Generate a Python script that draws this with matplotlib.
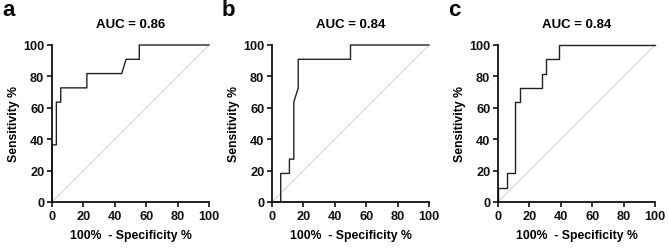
import matplotlib
matplotlib.use('Agg')
import matplotlib.pyplot as plt

plt.rcParams['font.family'] = ['Liberation Sans', 'DejaVu Sans']
plt.rcParams['font.weight'] = 'bold'

# ROC curves (100% - specificity, sensitivity)
fpr_a = [0, 0, 2.78, 2.78, 5.56, 5.56, 22.2, 22.2, 44.4, 47.2, 55.6, 55.6, 100]
sens_a = [0, 36.4, 36.4, 63.6, 63.6, 72.7, 72.7, 81.8, 81.8, 90.9, 90.9, 100, 100]

fpr_b = [0, 5.56, 5.56, 11.1, 11.1, 13.9, 13.9, 16.7, 16.7, 50, 50, 100]
sens_b = [0, 0, 18.2, 18.2, 27.3, 27.3, 63.6, 72.7, 90.9, 90.9, 100, 100]

fpr_c = [0, 0, 5.56, 5.56, 11.1, 11.1, 13.9, 13.9, 27.8, 27.8, 30.6, 30.6, 38.9, 38.9, 100]
sens_c = [0, 9.1, 9.1, 18.2, 18.2, 63.6, 63.6, 72.7, 72.7, 81.8, 81.8, 90.9, 90.9, 100, 100]

aucs = [0.86, 0.84, 0.84]
letras = ['a', 'b', 'c']
curvas = [(fpr_a, sens_a), (fpr_b, sens_b), (fpr_c, sens_c)]

fig = plt.figure(figsize=(6.69, 2.51), dpi=100)
W, H = 669, 251
esquerdas = [52, 272, 498]

for i in range(3):
    ax = fig.add_axes([esquerdas[i] / W, 48 / H, 157 / W, 157 / H])
    ax.plot([0, 100], [0, 100], color='#c8c8c8', lw=0.6, zorder=1)
    x, y = curvas[i]
    ax.plot(x, y, color='#222222', lw=1.0, zorder=2, clip_on=False)
    ax.set_xlim(0, 100)
    ax.set_ylim(0, 100)
    ax.set_xticks(range(0, 101, 20))
    ax.set_yticks(range(0, 101, 20))
    for s in ['top', 'right']:
        ax.spines[s].set_visible(False)
    for s in ['left', 'bottom']:
        ax.spines[s].set_linewidth(1.3)
        ax.spines[s].set_color('#111111')
    ax.tick_params(direction='out', length=3.5, width=1.2, labelsize=9.2, pad=2, colors='#111111')
    for lab in ax.get_xticklabels() + ax.get_yticklabels():
        lab.set_fontweight('bold')
    ax.set_xlabel('100%  - Specificity %', fontsize=8.8, fontweight='bold', labelpad=5)
    ax.set_ylabel('Sensitivity %', fontsize=8.8, fontweight='bold', labelpad=2)
    ax.set_title('AUC = ' + format(aucs[i], '.2f'), fontsize=9.5, fontweight='bold', pad=13)
    fig.text((esquerdas[i] - 50) / W, 1 - 16 / H, letras[i], fontsize=16, fontweight='bold',
             va='baseline', ha='left')

fig.savefig('out.png', dpi=100)
